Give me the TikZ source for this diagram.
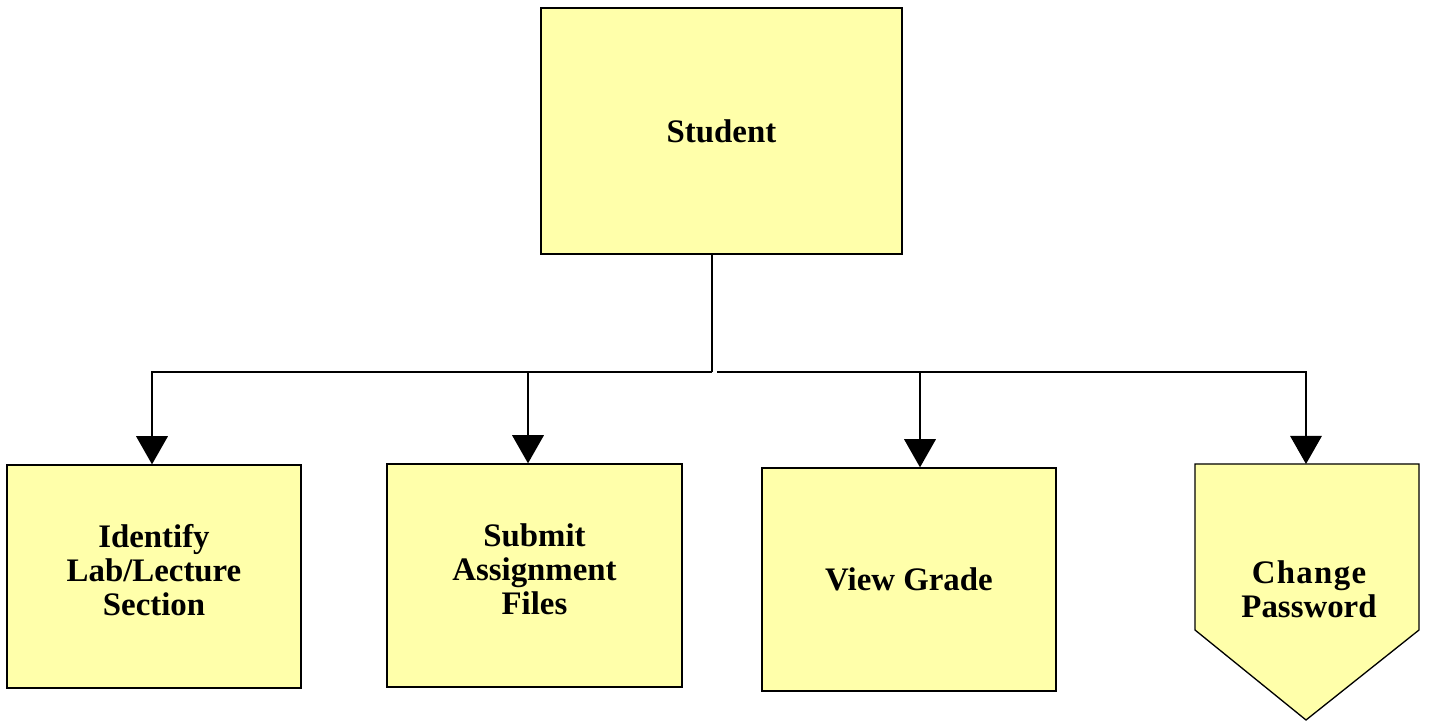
\documentclass[tikz,border=0pt]{standalone}
\usepackage{fontspec}
\setmainfont{Liberation Serif}
\usetikzlibrary{arrows.meta}
\definecolor{boxfill}{RGB}{255,255,170}
\begin{document}
\begin{tikzpicture}[x=0.02cm,y=-0.02cm,
  box/.style={draw=black,line width=0.75pt,fill=boxfill,inner sep=0pt},
  caption/.style={inner sep=0pt,font=\fontsize{18.7}{19.3}\selectfont\bfseries,align=center},
  link/.style={draw=black,line width=0.75pt},
  arr/.style={link,-{Triangle[width=18pt,length=16pt]}}]
\useasboundingbox (0,0) rectangle (1430,722);

% top box
\node[box,minimum width=361*0.02cm,minimum height=246*0.02cm] (student) at (721.5,131) {};
\node[caption] (studenttxt) at (student.center) {Student};

% second row boxes
\node[box,minimum width=294*0.02cm,minimum height=223*0.02cm] (identify) at (154,576.5) {};
\node[caption] (identifytxt) at (154,570) {Identify\\Lab/Lecture\\Section};
\node[box,minimum width=295*0.02cm,minimum height=223*0.02cm] (submit) at (534.5,575.5) {};
\node[caption] (submittxt) at (534.5,569) {Submit\\Assignment\\Files};
\node[box,minimum width=294*0.02cm,minimum height=223*0.02cm] (grade) at (909,579.5) {};
\node[caption] (gradetxt) at (grade.center) {View Grade};

% pentagon-shaped off-page box
\coordinate (pwtop) at (1306,464);
\draw[line width=0.75pt,fill=boxfill] (1195,464) -- (1419,464) -- (1419,630)
  -- (1306,720) -- (1195,630) -- cycle;
\node[caption] (password) at (1309,589)
  {\addfontfeature{LetterSpace=4}Change\\Password};

% connectors
\coordinate (jl) at (712,372);
\coordinate (jr) at (717,372);
\draw[link] (student.south -| jl) -- (jl);
\draw[arr] (jl) -| (identify.north -| 152,0);
\draw[arr] (jl) -| (submit.north -| 528,0);
\draw[arr] (jr) -| (grade.north -| 920,0);
\draw[arr] (jr) -| (pwtop);
\end{tikzpicture}
\end{document}
